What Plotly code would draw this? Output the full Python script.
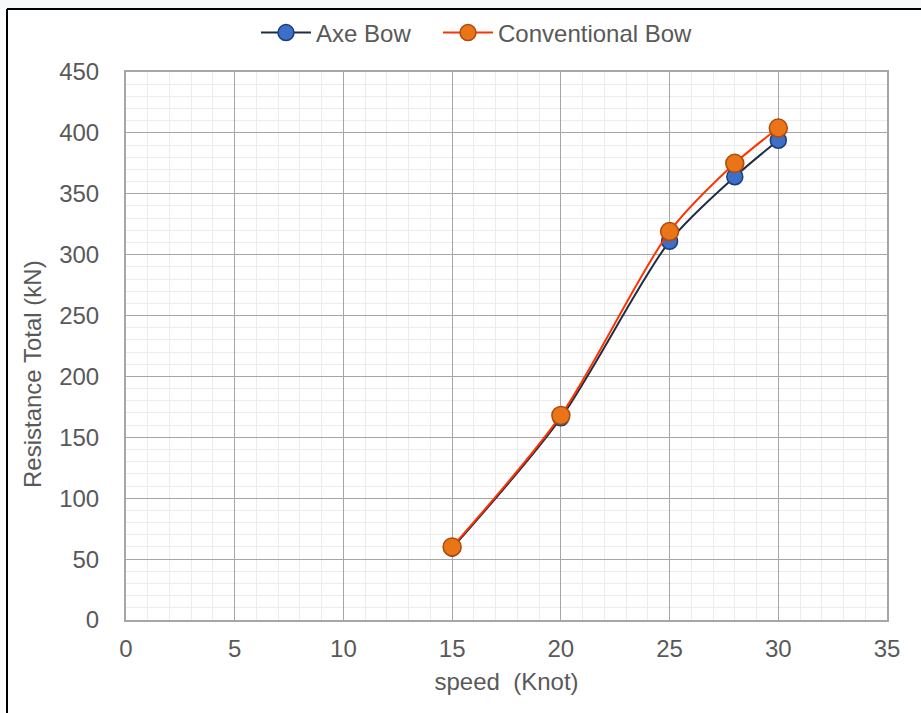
import plotly.graph_objects as go

speed = [15, 20, 25, 28, 30]
axe_bow = [59, 166, 311, 364, 394]
conventional_bow = [60, 168, 319, 375, 404]

FONT = "Liberation Sans, Arial, sans-serif"
TXT = "#595959"
FS = 24

fig = go.Figure()
fig.add_trace(go.Scatter(
    x=speed, y=axe_bow, name="Axe Bow", mode="lines+markers", legend="legend",
    line=dict(color="#1f2d44", width=2, shape="spline", smoothing=0.8),
    marker=dict(size=16, color="#3d6fc8", line=dict(color="#1d3d78", width=1.5)),
))
fig.add_trace(go.Scatter(
    x=speed, y=conventional_bow, name="Conventional Bow", mode="lines+markers",
    legend="legend2",
    line=dict(color="#ff3300", width=2, shape="spline", smoothing=0.8),
    marker=dict(size=18, color="#ea7418", line=dict(color="#b04a08", width=1.5)),
))

leg_common = dict(orientation="h", xanchor="left", xref="paper",
                  yref="container", y=1 - 33/713, yanchor="middle",
                  itemwidth=50, font=dict(size=FS, color=TXT),
                  bgcolor="rgba(0,0,0,0)")

fig.update_layout(
    width=921, height=713,
    paper_bgcolor="white", plot_bgcolor="white",
    margin=dict(l=126, r=34, t=72, b=93, autoexpand=False),
    font=dict(family=FONT, size=FS, color=TXT),
    legend=dict(x=(256 - 126) / 761, **leg_common),
    legend2=dict(x=(438 - 126) / 761, **leg_common),
    showlegend=True,
)
fig.update_xaxes(
    range=[0, 35], dtick=5, tick0=0,
    showgrid=True, gridcolor="#a6a6a6", gridwidth=1.3,
    minor=dict(dtick=1, showgrid=True, gridcolor="#ececec", gridwidth=1.3),
    showline=True, linecolor="#a6a6a6", linewidth=2, mirror=True,
    zeroline=False, ticks="", automargin=False, ticklabelstandoff=6,
    title=dict(text="speed  (Knot)", font=dict(size=FS, color=TXT), standoff=12),
    tickfont=dict(size=FS, color=TXT),
)
fig.update_yaxes(
    range=[0, 450], dtick=50, tick0=0,
    showgrid=True, gridcolor="#a6a6a6", gridwidth=1.3,
    minor=dict(dtick=10, showgrid=True, gridcolor="#ececec", gridwidth=1.3),
    showline=True, linecolor="#a6a6a6", linewidth=2, mirror=True,
    zeroline=False, ticks="", automargin=False, ticklabelstandoff=20,
    tickfont=dict(size=FS, color=TXT),
)

# y-axis title placed as in the reference (slightly below plot centre)
fig.add_annotation(text="Resistance Total (kN)", xref="paper", yref="paper",
                   x=(32 - 126) / 761, y=(620 - 374) / 548, showarrow=False,
                   textangle=-90, xanchor="center", yanchor="middle",
                   font=dict(size=FS, color=TXT))

# page frame: light strip above top border, black top and left border lines
fig.add_shape(type="rect", xref="paper", yref="paper",
              x0=-126/761, x1=(761+34)/761, y0=1 + 63/548, y1=1 + 72/548,
              fillcolor="#f7f8fa", line=dict(width=0), layer="below")
fig.add_shape(type="line", xref="paper", yref="paper",
              x0=-119/761, x1=(761+34)/761, y0=1 + 63/548, y1=1 + 63/548,
              line=dict(color="black", width=2))
fig.add_shape(type="line", xref="paper", yref="paper",
              x0=-119/761, x1=-119/761, y0=1 + 63/548, y1=-93/548,
              line=dict(color="black", width=2))

fig.write_html("out.html")
